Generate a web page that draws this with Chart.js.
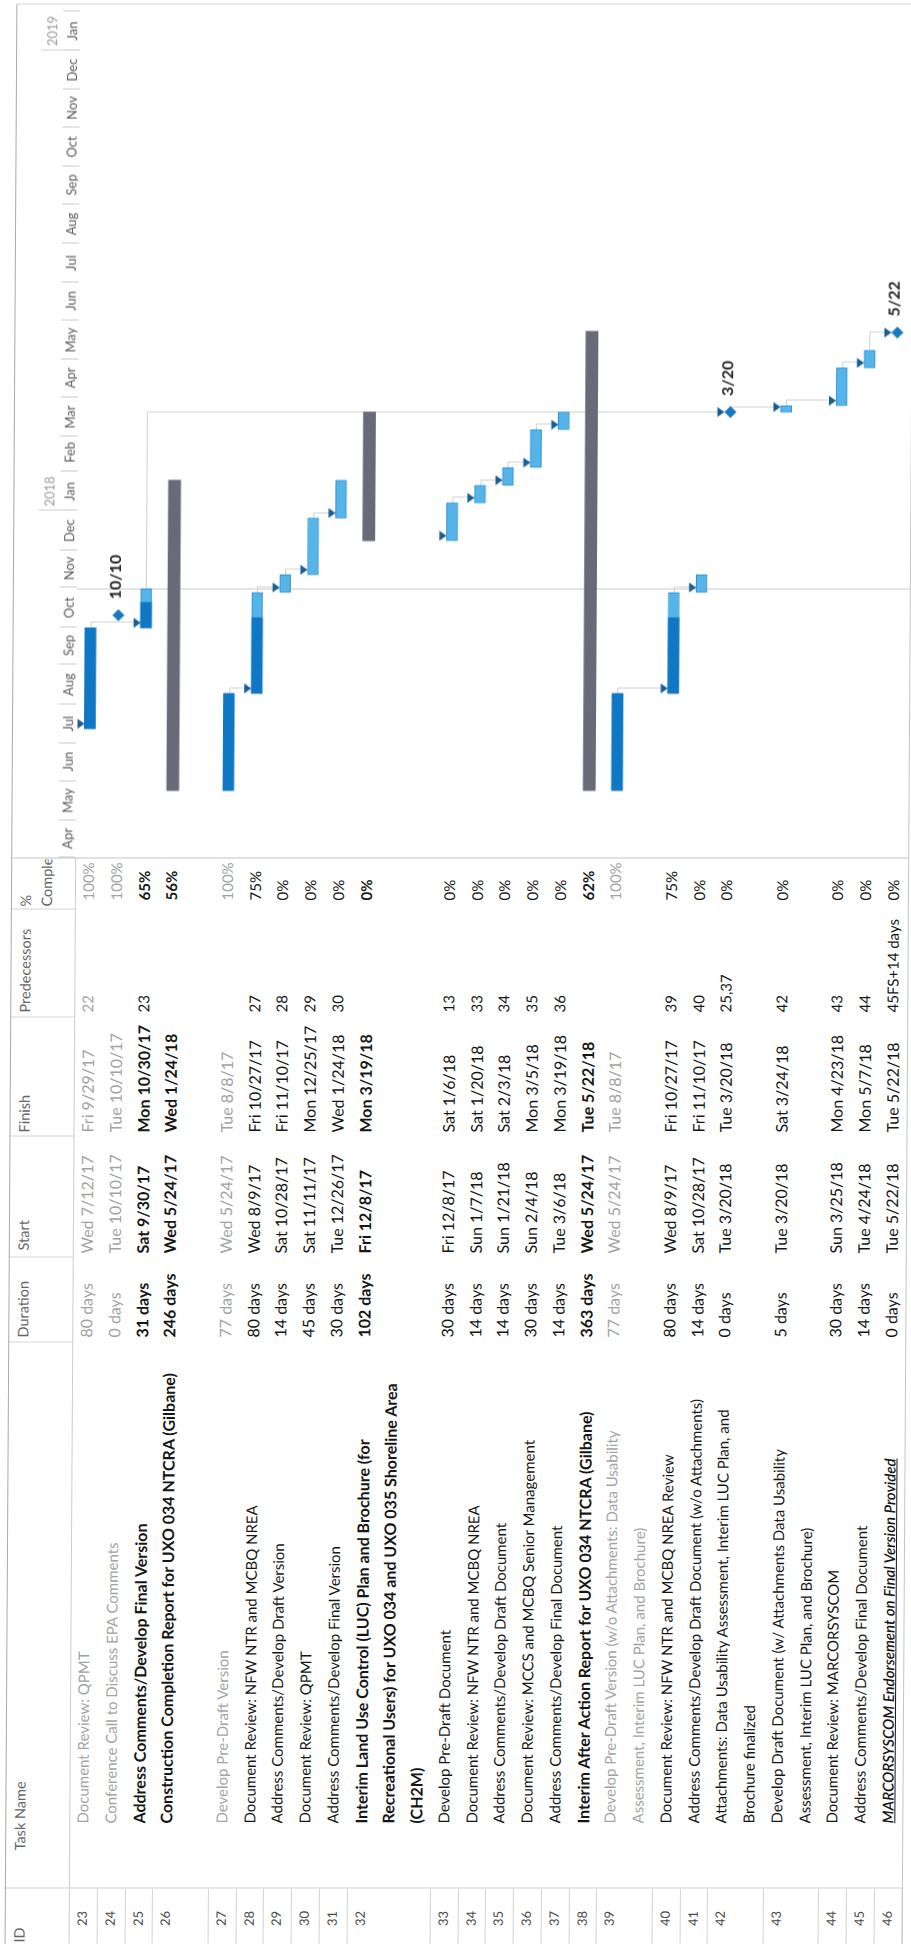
<!DOCTYPE html>
<html lang="en">
<head>
<meta charset="UTF-8" />
<title>Schedule - tasks 23 to 46</title>
<script src="https://cdn.jsdelivr.net/npm/chart.js"></script>
<style>
  html, body { margin: 0; padding: 0; background: #fff; overflow: hidden; }
  body { width: 911px; height: 1944px; position: relative; }
  /* the scan is slightly skewed, the sheet is printed landscape and turned */
  #page { position: absolute; left: 0; top: 0; width: 911px; height: 1944px;
          transform-origin: 455.5px 972px; transform: skewX(-0.35deg); }
  #sheet { position: absolute; left: -516.5px; top: 516.5px; width: 1944px; height: 911px;
           transform-origin: 972px 455.5px; transform: rotate(-90deg);
           font-family: Lato, 'Open Sans', sans-serif; color: #1a1a1a; }
  .cell { position: absolute; white-space: nowrap; overflow: hidden; }
  .hdr { color: #666; font-size: 14.5px; line-height: 21px; top: 14px; }
  .line { position: absolute; background: #cfcfcf; }
  #chart-box { position: absolute; left: 1087px; top: 10px; width: 853px; height: 897px; }
</style>
</head>
<body>
<div id="page">
  <div id="sheet">
    <div id="table"></div>
    <div id="chart-box"><canvas id="gantt" width="853" height="897"></canvas></div>
  </div>
</div>

<script>
  const taskIds = [23, 24, 25, 26, 27, 28, 29, 30, 31, 32, 33, 34, 35, 36, 37, 38, 39, 40, 41, 42, 43, 44, 45, 46];
  const taskNames = [
    'Document Review: QPMT',
    'Conference Call to Discuss EPA Comments',
    'Address Comments/Develop Final Version',
    'Construction Completion Report for UXO 034 NTCRA (Gilbane)',
    'Develop Pre-Draft Version',
    'Document Review: NFW NTR and MCBQ NREA',
    'Address Comments/Develop Draft Version',
    'Document Review: QPMT',
    'Address Comments/Develop Final Version',
    'Interim Land Use Control (LUC) Plan and Brochure (for\nRecreational Users) for UXO 034 and UXO 035 Shoreline Area\n(CH2M)',
    'Develop Pre-Draft Document',
    'Document Review: NFW NTR and MCBQ NREA',
    'Address Comments/Develop Draft Document',
    'Document Review: MCCS and MCBQ Senior Management',
    'Address Comments/Develop Final Document',
    'Interim After Action Report for UXO 034 NTCRA (Gilbane)',
    'Develop Pre-Draft Version (w/o Attachments: Data Usability\nAssessment, Interim LUC Plan, and Brochure)',
    'Document Review: NFW NTR and MCBQ NREA Review',
    'Address Comments/Develop Draft Document (w/o Attachments)',
    'Attachments: Data Usability Assessment, Interim LUC Plan, and\nBrochure finalized',
    'Develop Draft Document (w/ Attachments Data Usability\nAssessment, Interim LUC Plan, and Brochure)',
    'Document Review: MARCORSYSCOM',
    'Address Comments/Develop Final Document',
    'MARCORSYSCOM Endorsement on Final Version Provided'
  ];
  const durations = ['80 days', '0 days', '31 days', '246 days', '77 days', '80 days', '14 days', '45 days',
    '30 days', '102 days', '30 days', '14 days', '14 days', '30 days', '14 days', '363 days', '77 days',
    '80 days', '14 days', '0 days', '5 days', '30 days', '14 days', '0 days'];
  const startDates = ['2017-07-12', '2017-10-10', '2017-09-30', '2017-05-24', '2017-05-24', '2017-08-09',
    '2017-10-28', '2017-11-11', '2017-12-26', '2017-12-08', '2017-12-08', '2018-01-07', '2018-01-21',
    '2018-02-04', '2018-03-06', '2017-05-24', '2017-05-24', '2017-08-09', '2017-10-28', '2018-03-20',
    '2018-03-20', '2018-03-25', '2018-04-24', '2018-05-22'];
  const finishDates = ['2017-09-29', '2017-10-10', '2017-10-30', '2018-01-24', '2017-08-08', '2017-10-27',
    '2017-11-10', '2017-12-25', '2018-01-24', '2018-03-19', '2018-01-06', '2018-01-20', '2018-02-03',
    '2018-03-05', '2018-03-19', '2018-05-22', '2017-08-08', '2017-10-27', '2017-11-10', '2018-03-20',
    '2018-03-24', '2018-04-23', '2018-05-07', '2018-05-22'];
  const predecessors = ['22', '', '23', '', '', '27', '28', '29', '30', '', '13', '33', '34', '35', '36',
    '', '', '39', '40', '25,37', '42', '43', '44', '45FS+14 days'];
  const percentComplete = [100, 100, 65, 56, 100, 75, 0, 0, 0, 0, 0, 0, 0, 0, 0, 62, 100, 75, 0, 0, 0, 0, 0, 0];
  const taskTypes = ['task', 'milestone', 'task', 'summary', 'task', 'task', 'task', 'task', 'task', 'summary',
    'task', 'task', 'task', 'task', 'task', 'summary', 'task', 'task', 'task', 'milestone', 'task', 'task',
    'task', 'milestone'];
  const columnHeaders = ['ID', 'Task Name', 'Duration', 'Start', 'Finish', 'Predecessors', '%\nComplete'];
  const monthNames = ['Jan', 'Feb', 'Mar', 'Apr', 'May', 'Jun', 'Jul', 'Aug', 'Sep', 'Oct', 'Nov', 'Dec'];
  const dayNames = ['Sun', 'Mon', 'Tue', 'Wed', 'Thu', 'Fri', 'Sat'];
  const timelineStart = '2017-04-01';
  const timelineEnd = '2019-02-06';
  const currentDate = '2017-10-30';

  // ---- layout (landscape sheet, px) ----
  const rowLines = [1, 1, 1, 2, 1, 1, 1, 1, 1, 3, 1, 1, 1, 1, 1, 1, 2, 1, 1, 2, 2, 1, 1, 1];
  const boldIds = [25, 26, 32, 38];
  const HEAD_BOTTOM = 74, LINE_H = 27.75, TOTAL_LINES = 30;
  const cols = {
    id: { left: 0, right: 56 },
    name: { left: 56, right: 602, text: 121, head: 94 },
    dur: { left: 602, right: 687, text: 607 },
    start: { left: 687, right: 808, text: 691 },
    finish: { left: 808, right: 927, text: 812 },
    pred: { left: 927, right: 1035, text: 932 },
    pct: { left: 1035, right: 1087, text: 1044, head: 1038 }
  };
  const NAME_FONT = 15, NAME_BOLD_FONT = 16, VALUE_FONT = 16, SMALL_FONT = 15;

  const dayNum = s => { const [y, m, d] = s.split('-').map(Number); return Date.UTC(y, m - 1, d) / 86400000; };
  const fmtDate = s => {
    const dt = new Date(dayNum(s) * 86400000);
    return dayNames[dt.getUTCDay()] + ' ' + (dt.getUTCMonth() + 1) + '/' + dt.getUTCDate() + '/' + String(dt.getUTCFullYear()).slice(2);
  };

  // first line of every row
  const lineStart = [];
  rowLines.reduce((acc, n, i) => { lineStart[i] = acc; return acc + n; }, 0);

  // ---- table ----
  const table = document.getElementById('table');
  function addDiv(cls, style, html) {
    const d = document.createElement('div');
    d.className = cls;
    Object.assign(d.style, style);
    if (html !== undefined) d.innerHTML = html;
    table.appendChild(d);
    return d;
  }
  function hline(x1, x2, y, color) { addDiv('line', { left: x1 + 'px', top: y + 'px', width: (x2 - x1) + 'px', height: '1px', background: color }); }
  function vline(x, y1, y2, color) { addDiv('line', { left: x + 'px', top: y1 + 'px', width: '1px', height: (y2 - y1) + 'px', background: color }); }

  // header
  const headLefts = [2, cols.name.head, cols.dur.text, cols.start.text + 3, cols.finish.text, cols.pred.text, cols.pct.head];
  const headRights = [cols.id.right, cols.name.right, cols.dur.right, cols.start.right, cols.finish.right, cols.pred.right, cols.pct.right];
  columnHeaders.forEach((h, i) => {
    addDiv('cell hdr', { left: headLefts[i] + 'px', width: (headRights[i] - headLefts[i] - 2) + 'px' }, h.replace('\n', '<br>'));
  });
  [cols.id.right, cols.name.right, cols.dur.right, cols.start.right, cols.finish.right, cols.pred.right].forEach(x => vline(x, 10, HEAD_BOTTOM, '#d6d6d6'));
  hline(0, 1087, HEAD_BOTTOM, '#cccccc');

  // rows
  taskIds.forEach((id, i) => {
    const top = HEAD_BOTTOM + lineStart[i] * LINE_H;
    const h = rowLines[i] * LINE_H;
    const done = percentComplete[i] === 100;
    const bold = boldIds.includes(id);
    const style = {
      top: top + 'px', height: h + 'px', lineHeight: LINE_H + 'px', fontSize: VALUE_FONT + 'px',
      color: done ? '#a3a3a3' : '#161616', fontWeight: bold ? '700' : '400'
    };
    const cell = (left, width, extra, text) => addDiv('cell', Object.assign({}, style, { left: left + 'px', width: width + 'px' }, extra), text);
    cell(0, 52, { textAlign: 'center', fontSize: '13px', color: '#4a4a4a', fontWeight: '400' }, id);
    const nameExtra = { fontSize: (bold ? NAME_BOLD_FONT : NAME_FONT) + 'px' };
    if (id === 46) Object.assign(nameExtra, { fontStyle: 'italic', textDecoration: 'underline', fontWeight: '600' });
    cell(cols.name.text, cols.name.right - cols.name.text - 1, nameExtra, taskNames[i].split('\n').join('<br>'));
    cell(cols.dur.text, cols.dur.right - cols.dur.text, {}, durations[i]);
    cell(cols.start.text, cols.start.right - cols.start.text, {}, fmtDate(startDates[i]));
    cell(cols.finish.text, cols.finish.right - cols.finish.text, {}, fmtDate(finishDates[i]));
    cell(cols.pred.text, cols.pred.right - cols.pred.text + 10, { fontWeight: '400', fontSize: SMALL_FONT + 'px' }, predecessors[i]);
    cell(cols.pct.text, cols.pct.right - cols.pct.text, { fontSize: SMALL_FONT + 'px' }, percentComplete[i] + '%');
    // ID column row separator
    hline(0, cols.id.right, top + h, '#d2d2d2');
  });
  vline(cols.id.right, HEAD_BOTTOM, HEAD_BOTTOM + TOTAL_LINES * LINE_H, '#d2d2d2');

  // sheet frame
  hline(0, 1940, 10, '#a9a9a9');
  hline(0, 1940, HEAD_BOTTOM + TOTAL_LINES * LINE_H, '#c4c4c4');
  vline(1086, 10, HEAD_BOTTOM + TOTAL_LINES * LINE_H, '#c4c4c4');
  vline(1940, 10, HEAD_BOTTOM + TOTAL_LINES * LINE_H, '#d4d4d4');

  // ---- gantt ----
  const minDay = dayNum(timelineStart), maxDay = dayNum(timelineEnd);
  const monthTicks = [], yearTicks = [];
  for (let y = 2017; y <= 2019; y++) {
    for (let m = 0; m < 12; m++) {
      const d = Date.UTC(y, m, 1) / 86400000;
      if (d >= minDay && d < maxDay) {
        monthTicks.push(d);
        if (m === 0) yearTicks.push(d);
      }
    }
  }
  const monthLabel = v => monthNames[new Date(v * 86400000).getUTCMonth()];
  const yearLabel = v => String(new Date(v * 86400000).getUTCFullYear());

  const rowValue = i => lineStart[i] + 0.5;
  const doneBars = [], remainingBars = [], summaryBars = [], milestonePoints = [];
  taskIds.forEach((id, i) => {
    const s = dayNum(startDates[i]), e = dayNum(finishDates[i]) + 1;
    if (taskTypes[i] === 'milestone') milestonePoints.push({ x: s, y: rowValue(i) });
    else if (taskTypes[i] === 'summary') summaryBars.push({ x: [s, e], y: rowValue(i) });
    else {
      if (percentComplete[i] < 100) remainingBars.push({ x: [s, e], y: rowValue(i) });
      if (percentComplete[i] > 0) doneBars.push({ x: [s, s + (e - s) * percentComplete[i] / 100], y: rowValue(i) });
    }
  });

  const parsePreds = p => p ? p.split(',').map(v => parseInt(v, 10)) : [];

  // link lines, arrows, current date line, milestone dates
  const ganttExtras = {
    id: 'ganttExtras',
    beforeDatasetsDraw(chart) {
      const { ctx, chartArea, scales: { x, y } } = chart;
      ctx.save();
      ctx.lineWidth = 1;
      ctx.strokeStyle = '#c9c9c9';
      const cx = Math.round(x.getPixelForValue(dayNum(currentDate))) + 0.5;
      ctx.beginPath(); ctx.moveTo(cx, chartArea.top); ctx.lineTo(cx, chartArea.bottom); ctx.stroke();

      // finish-to-start links whose predecessor is on this page
      ctx.strokeStyle = '#cdd1d4';
      taskIds.forEach((id, i) => {
        const isMs = taskTypes[i] === 'milestone';
        const xs = Math.round(x.getPixelForValue(dayNum(startDates[i])) + (isMs ? 0 : 5)) + 0.5;
        const yTop = y.getPixelForValue(rowValue(i)) - (isMs ? 6 : 5.5);
        parsePreds(predecessors[i]).forEach(pid => {
          const p = taskIds.indexOf(pid);
          if (p < 0) return;
          const pMs = taskTypes[p] === 'milestone';
          const xe = x.getPixelForValue(dayNum(finishDates[p]) + (pMs ? 0 : 1));
          const yp = Math.round(y.getPixelForValue(rowValue(p))) + 0.5;
          ctx.beginPath();
          ctx.moveTo(xe, yp);
          ctx.lineTo(xs, yp);
          ctx.lineTo(xs, yTop);
          ctx.stroke();
        });
      });
      ctx.restore();
    },
    afterDatasetsDraw(chart) {
      const { ctx, scales: { x, y } } = chart;
      ctx.save();
      ctx.fillStyle = '#1b5f8f';
      taskIds.forEach((id, i) => {
        if (!predecessors[i]) return;
        const isMs = taskTypes[i] === 'milestone';
        const xs = x.getPixelForValue(dayNum(startDates[i])) + (isMs ? 0 : 5);
        const yTop = y.getPixelForValue(rowValue(i)) - (isMs ? 6 : 5.5);
        ctx.beginPath();
        ctx.moveTo(xs, yTop);
        ctx.lineTo(xs - 5, yTop - 7);
        ctx.lineTo(xs + 5, yTop - 7);
        ctx.closePath();
        ctx.fill();
      });
      ctx.fillStyle = '#222';
      ctx.font = '700 16px Lato, sans-serif';
      ctx.textBaseline = 'middle';
      taskIds.forEach((id, i) => {
        if (taskTypes[i] !== 'milestone') return;
        const dt = new Date(dayNum(startDates[i]) * 86400000);
        ctx.fillText((dt.getUTCMonth() + 1) + '/' + dt.getUTCDate(),
          x.getPixelForValue(dayNum(startDates[i])) + 16, y.getPixelForValue(rowValue(i)) - 3);
      });
      ctx.restore();
    }
  };

  const barCommon = { grouped: false, borderSkipped: false };
  new Chart(document.getElementById('gantt'), {
    type: 'bar',
    data: {
      datasets: [
        { type: 'scatter', label: 'Milestone', data: milestonePoints, indexAxis: 'x', pointStyle: 'rectRot',
          pointRadius: 6, backgroundColor: '#1878c0', borderWidth: 0, order: 0 },
        Object.assign({ label: 'Complete', data: doneBars, backgroundColor: '#0f77c3', barThickness: 11, order: 1 }, barCommon),
        Object.assign({ label: 'Remaining', data: remainingBars, backgroundColor: '#57b4e9', borderColor: '#2b90d4',
          borderWidth: 1, barThickness: 11, order: 2 }, barCommon),
        Object.assign({ label: 'Summary', data: summaryBars, backgroundColor: '#686a78', barThickness: 12, order: 3 }, barCommon)
      ]
    },
    options: {
      indexAxis: 'y',
      responsive: false,
      animation: false,
      layout: { padding: 0, autoPadding: false },
      plugins: { legend: { display: false }, tooltip: { enabled: false } },
      scales: {
        x: {
          type: 'linear', position: 'top', min: minDay, max: maxDay, weight: 0,
          afterBuildTicks: s => { s.ticks = monthTicks.map(v => ({ value: v })); },
          afterFit: s => { s.height = 17; s.paddingLeft = 0; s.paddingRight = 0; },
          border: { display: false },
          grid: { drawOnChartArea: false, drawTicks: true, tickLength: 17, color: '#c8c8c8' },
          ticks: { autoSkip: false, maxRotation: 0, labelOffset: 19, padding: -17.8, color: '#5a5a5a',
            font: { family: 'Lato', size: 13 }, callback: monthLabel }
        },
        x2: {
          type: 'linear', position: 'top', min: minDay, max: maxDay, weight: 1,
          afterBuildTicks: s => { s.ticks = yearTicks.map(v => ({ value: v })); },
          afterFit: s => { s.height = 47; s.paddingLeft = 0; s.paddingRight = 0; },
          border: { display: false },
          grid: { drawOnChartArea: false, drawTicks: true, tickLength: 22, color: '#cfcfcf' },
          ticks: { autoSkip: false, maxRotation: 0, labelOffset: 19, padding: -19.8, color: '#9a9a9a',
            font: { family: 'Lato', size: 13 }, callback: yearLabel }
        },
        y: { type: 'linear', min: 0, max: TOTAL_LINES, reverse: true, offset: false, display: false }
      }
    },
    plugins: [ganttExtras]
  });
</script>
</body>
</html>
